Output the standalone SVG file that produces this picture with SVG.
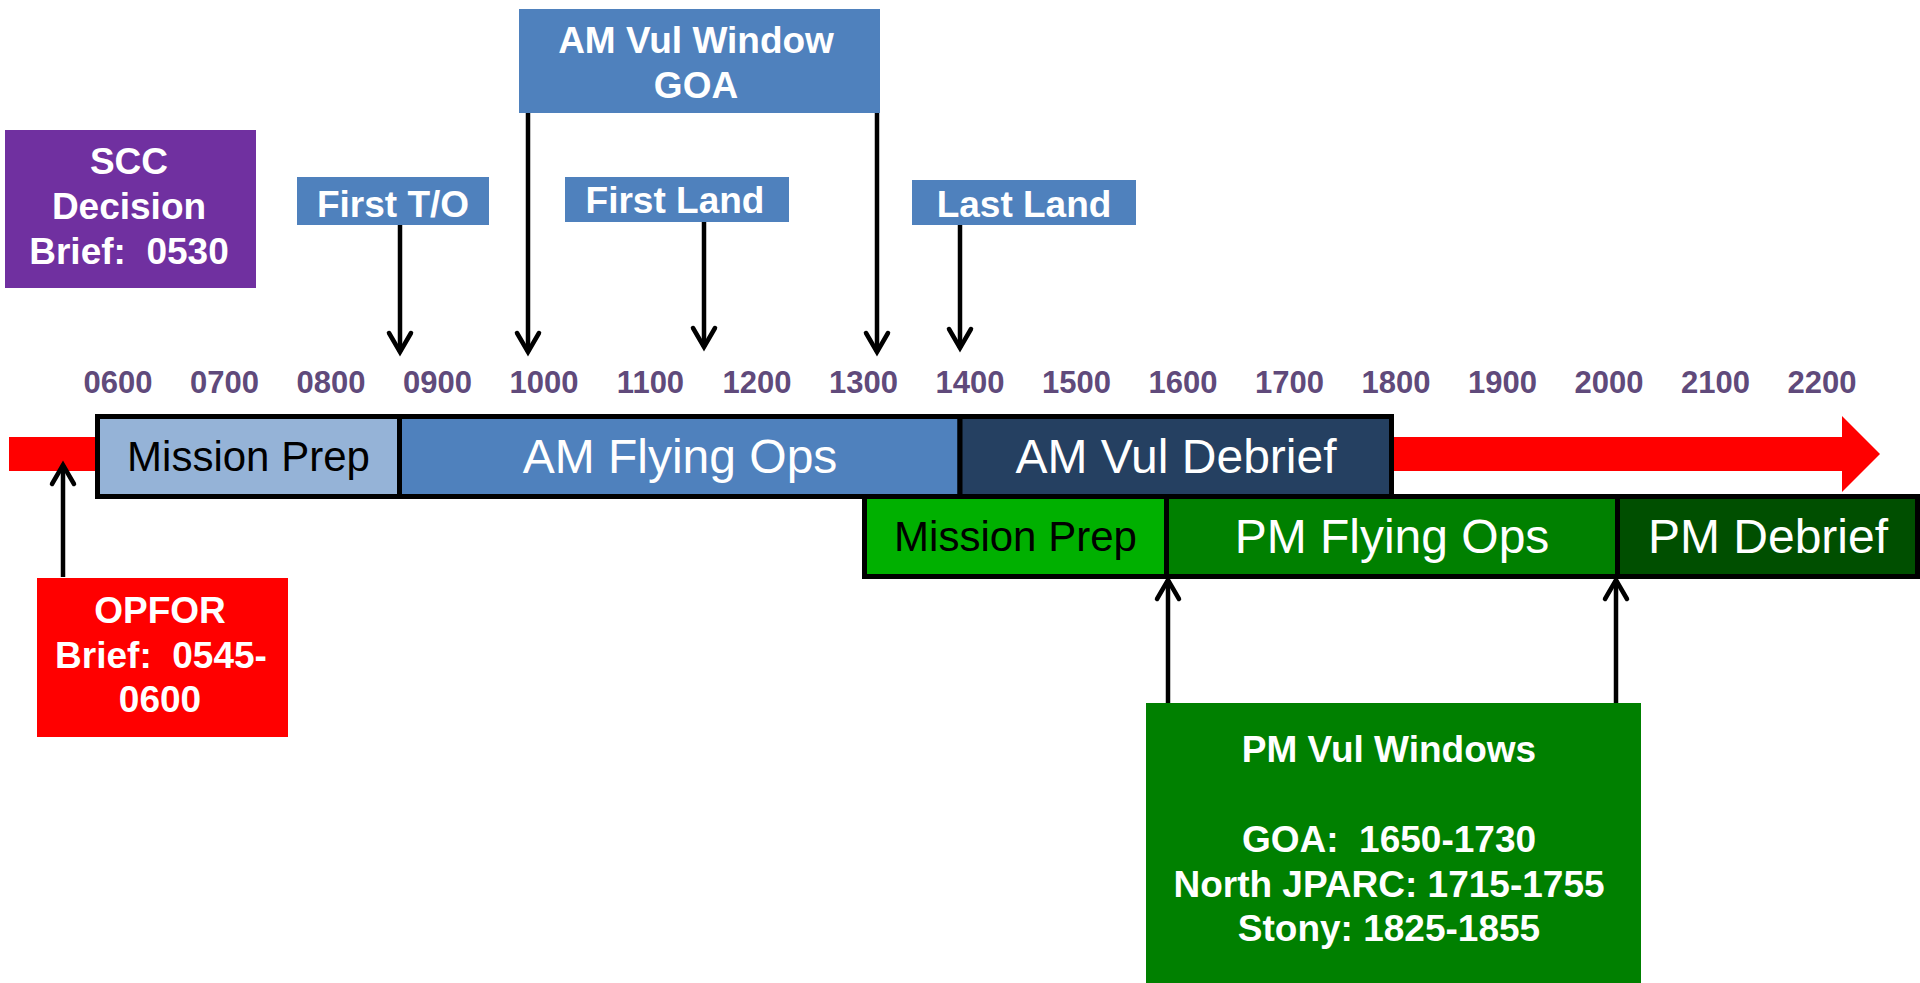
<svg xmlns="http://www.w3.org/2000/svg" width="1920" height="983" viewBox="0 0 1920 983">
<style>
text{font-family:"Liberation Sans",Arial,sans-serif;text-anchor:middle}
.lbl{font-size:37px;font-weight:bold;fill:#fff}
.tick{font-size:31px;font-weight:bold;fill:#604A7B}
.bar{stroke:#000;stroke-width:5}
.bt{font-size:48px;fill:#fff}
.bts{font-size:42px;fill:#000}
.conn{fill:none;stroke:#000;stroke-width:4.5;marker-end:url(#ah)}
</style>
<defs>
<marker id="ah" markerUnits="userSpaceOnUse" markerWidth="34" markerHeight="34" viewBox="-28 -17 34 34" refX="0" refY="0" orient="auto">
<path d="M -19,-11 L 0,0 L -19,11" fill="none" stroke="#000" stroke-width="4.5" stroke-linecap="round" stroke-linejoin="miter"/>
</marker>
</defs>
<rect width="1920" height="983" fill="#fff"/>

<g id="timeline-arrow">
<path d="M 9,437 L 1842,437 L 1842,416 L 1880,454 L 1842,492 L 1842,471 L 9,471 Z" fill="#FF0000"/>
</g>

<g id="axis">
<text class="tick" x="118" y="393">0600</text>
<text class="tick" x="224.5" y="393">0700</text>
<text class="tick" x="331" y="393">0800</text>
<text class="tick" x="437.5" y="393">0900</text>
<text class="tick" x="544" y="393">1000</text>
<text class="tick" x="650.5" y="393">1100</text>
<text class="tick" x="757" y="393">1200</text>
<text class="tick" x="863.5" y="393">1300</text>
<text class="tick" x="970" y="393">1400</text>
<text class="tick" x="1076.5" y="393">1500</text>
<text class="tick" x="1183" y="393">1600</text>
<text class="tick" x="1289.5" y="393">1700</text>
<text class="tick" x="1396" y="393">1800</text>
<text class="tick" x="1502.5" y="393">1900</text>
<text class="tick" x="1609" y="393">2000</text>
<text class="tick" x="1715.5" y="393">2100</text>
<text class="tick" x="1822" y="393">2200</text>
</g>

<g id="am-mission-prep">
<rect class="bar" x="97.5" y="416.5" width="302" height="80" fill="#95B3D7"/>
<text class="bts" x="248.5" y="471">Mission Prep</text>
</g>
<g id="am-flying-ops">
<rect class="bar" x="399.5" y="416.5" width="560.5" height="80" fill="#4F81BD"/>
<text class="bt" x="680" y="473">AM Flying Ops</text>
</g>
<g id="am-vul-debrief">
<rect class="bar" x="960" y="416.5" width="431.5" height="80" fill="#254061"/>
<text class="bt" x="1176" y="473">AM Vul Debrief</text>
</g>

<g id="pm-mission-prep">
<rect class="bar" x="864.5" y="496.5" width="302" height="80" fill="#00B000"/>
<text class="bts" x="1015.5" y="551">Mission Prep</text>
</g>
<g id="pm-flying-ops">
<rect class="bar" x="1166.5" y="496.5" width="451" height="80" fill="#008000"/>
<text class="bt" x="1392" y="553">PM Flying Ops</text>
</g>
<g id="pm-debrief">
<rect class="bar" x="1617.5" y="496.5" width="300" height="80" fill="#004F00"/>
<text class="bt" x="1768" y="553">PM Debrief</text>
</g>

<g id="scc-brief">
<rect x="5" y="130" width="251" height="158" fill="#7030A0"/>
<text class="lbl" x="129" y="174">SCC</text>
<text class="lbl" x="129" y="219">Decision</text>
<text class="lbl" x="129" y="264" xml:space="preserve">Brief:  0530</text>
</g>

<g id="first-to">
<rect x="297" y="177" width="192" height="48" fill="#4F81BD"/>
<text class="lbl" x="393" y="217">First T/O</text>
</g>

<g id="am-vul-window">
<rect x="519" y="9" width="361" height="104" fill="#4F81BD"/>
<text class="lbl" x="696" y="53">AM Vul Window</text>
<text class="lbl" x="696" y="98">GOA</text>
</g>

<g id="first-land">
<rect x="565" y="177" width="224" height="45" fill="#4F81BD"/>
<text class="lbl" x="675" y="213">First Land</text>
</g>

<g id="last-land">
<rect x="912" y="180" width="224" height="45" fill="#4F81BD"/>
<text class="lbl" x="1024" y="217">Last Land</text>
</g>

<g id="opfor-brief">
<rect x="37" y="578" width="251" height="159" fill="#FF0000"/>
<text class="lbl" x="160" y="623">OPFOR</text>
<text class="lbl" x="161" y="668" xml:space="preserve">Brief:  0545-</text>
<text class="lbl" x="160" y="712">0600</text>
</g>

<g id="pm-vul-windows">
<rect x="1146" y="703" width="495" height="280" fill="#008000"/>
<text class="lbl" x="1389" y="762">PM Vul Windows</text>
<text class="lbl" x="1389" y="852" xml:space="preserve">GOA:  1650-1730</text>
<text class="lbl" x="1389" y="897">North JPARC: 1715-1755</text>
<text class="lbl" x="1389" y="941">Stony: 1825-1855</text>
</g>

<g id="connectors">
<path class="conn" d="M 400,225 V 352"/>
<path class="conn" d="M 528,113 V 352"/>
<path class="conn" d="M 704,222 V 347"/>
<path class="conn" d="M 877,113 V 352"/>
<path class="conn" d="M 960,225 V 348"/>
<path class="conn" d="M 63,577 V 465"/>
<path class="conn" d="M 1168,703 V 580"/>
<path class="conn" d="M 1616,703 V 580"/>
</g>
</svg>
